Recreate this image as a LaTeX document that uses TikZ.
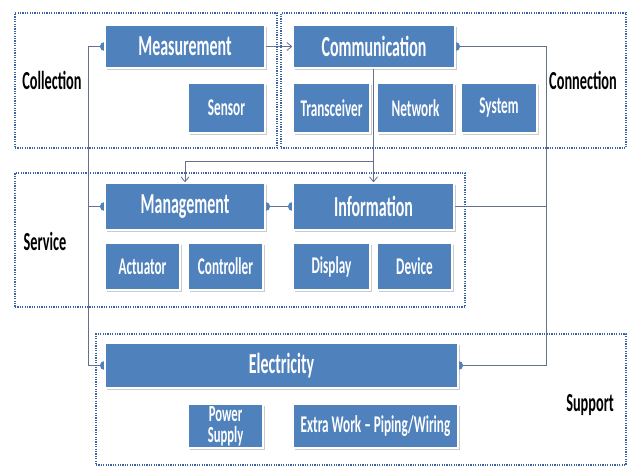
\documentclass[tikz,border=0pt]{standalone}
\usepackage{fontspec}
\usepackage{tikz}
\usetikzlibrary{arrows.meta,shadows,backgrounds}
\newfontfamily\diagfont[FakeStretch=0.55,Ligatures=TeX]{Carlito}
\definecolor{BoxBlue}{RGB}{79,129,189}
\definecolor{FrameBlue}{RGB}{60,100,165}
\definecolor{LinkGray}{RGB}{100,112,140}

\begin{document}
\begin{tikzpicture}[x=1pt, y=-1pt,
    box/.style={rectangle, fill=BoxBlue, draw=white, line width=1.2pt, text=white,
        inner sep=0pt, align=center,
        drop shadow={shadow xshift=1.5pt, shadow yshift=-2pt, fill=black!45, opacity=0.45}},
    bigbox/.style={box, font=\diagfont\bfseries\fontsize{29}{30}\selectfont},
    smallbox/.style={box, font=\diagfont\bfseries\fontsize{24}{25}\selectfont},
    group/.style={rectangle, draw=FrameBlue, dash pattern=on 1.2pt off 1.2pt, line width=1.4pt, inner sep=0pt},
    grouplabel/.style={font=\diagfont\bfseries\fontsize{26}{28}\selectfont},
    link/.style={draw=LinkGray, line width=0.8pt},
    joint/.style={fill=BoxBlue},
    arr/.style={-{Straight Barb[length=5pt, width=8pt]}}]
\useasboundingbox (0,0) rectangle (631,467);

% Groups
\node[group, minimum width=262, minimum height=135] (collectgrp) at (146,80.5) {};
\node[group, minimum width=345, minimum height=135] (connectgrp) at (453.5,80.5) {};
\node[group, minimum width=450, minimum height=134] (servicegrp) at (240,240) {};
\node[group, minimum width=530, minimum height=131] (supportgrp) at (361,399.5) {};

\node[grouplabel] (collection) at (52,80) {Collection};
\node[grouplabel] (connection) at (583,80) {Connection};
\node[grouplabel] (service) at (45,241) {Service};
\node[grouplabel] (support) at (590,405) {Support};

% Nodes
\node[bigbox, minimum width=160, minimum height=43] (meas) at (185,46.5) {Measurement};
\node[smallbox, minimum width=77, minimum height=50] (sensor) at (226.5,108) {Sensor};

\node[bigbox, minimum width=162, minimum height=43] (comm) at (374,46.5) {Communication};
\node[smallbox, minimum width=77, minimum height=50] (trans) at (331.5,108) {Transceiver};
\node[smallbox, minimum width=77, minimum height=50] (network) at (415.5,108) {Network};
\node[smallbox, minimum width=76, minimum height=50] (system) at (499,108) {System};

\node[bigbox, minimum width=160, minimum height=47] (manage) at (185,206.5) {Management};
\node[smallbox, minimum width=75, minimum height=47] (actuator) at (142.5,266.5) {Actuator};
\node[smallbox, minimum width=75, minimum height=47] (controller) at (225.5,266.5) {Controller};

\node[bigbox, minimum width=161, minimum height=47] (info) at (373.5,206.5) {Information};
\node[smallbox, minimum width=77, minimum height=47] (display) at (331.5,266.5) {Display};
\node[smallbox, minimum width=75, minimum height=47] (device) at (414.5,266.5) {Device};

\node[bigbox, minimum width=353, minimum height=45] (elec) at (281.5,365.5) {Electricity};
\node[smallbox, minimum width=75, minimum height=44, font=\diagfont\bfseries\fontsize{23}{21}\selectfont] (power) at (225.5,426) {Power\\Supply};
\node[smallbox, minimum width=165, minimum height=44] (extra) at (375.5,426) {Extra Work -- Piping/Wiring};

\coordinate (lbus) at (88,0);
\coordinate (rbus) at (546,0);
\coordinate (split) at (373.5,161);

% Arrows
\begin{scope}[on background layer]
\draw[link, arr] (meas) -- (comm);
\draw[link] (meas.west) -- (meas.west -| lbus) |- (elec.west);
\draw[link] (manage.west) -- (manage.west -| lbus);
\draw[link] (comm.east) -- (comm.east -| rbus) |- (elec.east);
\draw[link] (info.east) -- (info.east -| rbus);
\draw[link] (manage.east) -- (info.west);
\draw[link, arr] (comm.south -| split) -- (info.north -| split);
\draw[link, arr] (split) -| (manage.north);
% joints
\foreach \pt in {meas.west, elec.west, manage.west, manage.east, info.west, comm.east, elec.east}
  \fill[joint] (\pt) circle (4.5pt);
\end{scope}
\end{tikzpicture}
\end{document}
